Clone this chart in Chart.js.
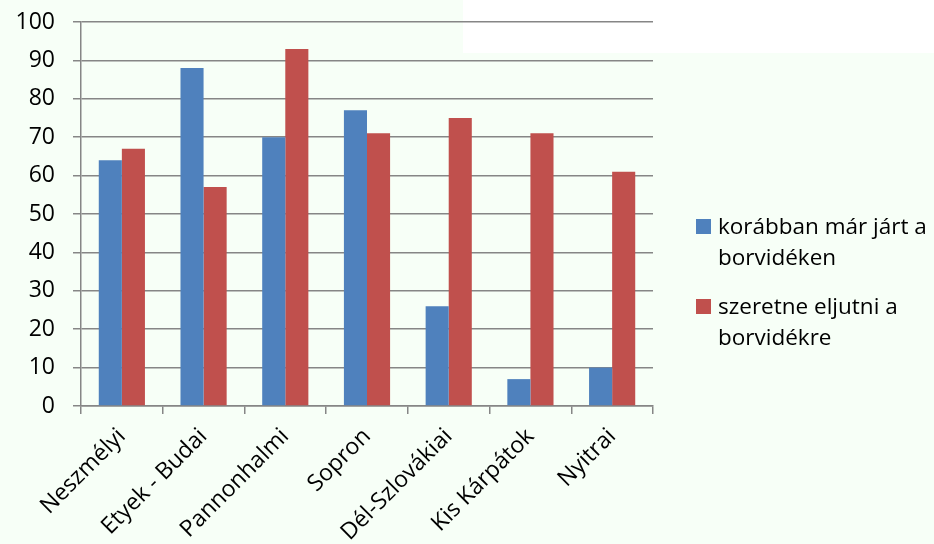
<!DOCTYPE html>
<html>
<head>
<meta charset="utf-8">
<script src="https://cdn.jsdelivr.net/npm/chart.js@4/dist/chart.umd.min.js"></script>
<style>
  html, body { margin: 0; padding: 0; }
  body { width: 934px; height: 544px; background: #F7FFF7; position: relative; overflow: hidden; font-family: "Open Sans", sans-serif; }
  #whiteBox { position: absolute; left: 463px; top: 0; width: 471px; height: 53px; background: #FFFFFF; }
  #wrap { position: absolute; left: 0; top: 0; width: 934px; height: 544px; }
  #legend { position: absolute; left: 696px; top: 210px; width: 238px; font-size: 22.5px; line-height: 31px; color: #000; }
  .item { position: relative; padding-left: 22px; margin-bottom: 18px; }
  .sw { position: absolute; left: 0; top: 9px; width: 15px; height: 15px; }
</style>
</head>
<body>
<div id="whiteBox"></div>
<div id="wrap"><canvas id="c" width="934" height="544"></canvas></div>
<div id="legend"></div>
<script>
const categories = ['Neszmélyi', 'Etyek - Budai', 'Pannonhalmi', 'Sopron', 'Dél-Szlovákiai', 'Kis Kárpátok', 'Nyitrai'];
const seriesNames = ['korábban már járt a borvidéken', 'szeretne eljutni a borvidékre'];
const visitedBefore = [64, 88, 70, 77, 26, 7, 10];
const wantToVisit = [67, 57, 93, 71, 75, 71, 61];
const seriesColors = ['#4F81BD', '#C0504D'];
const yMin = 0, yMax = 100, yStep = 10;

const font = { family: '"Open Sans", sans-serif', size: 23 };

new Chart(document.getElementById('c'), {
  type: 'bar',
  data: {
    labels: categories,
    datasets: [
      { label: seriesNames[0], data: visitedBefore, backgroundColor: seriesColors[0] },
      { label: seriesNames[1], data: wantToVisit, backgroundColor: seriesColors[1] }
    ]
  },
  options: {
    responsive: false,
    animation: false,
    devicePixelRatio: 1,
    categoryPercentage: 0.565,
    barPercentage: 1.0,
    layout: { padding: { top: 22, right: 281, left: 0, bottom: 0 } },
    plugins: { legend: { display: false }, tooltip: { enabled: false } },
    scales: {
      x: {
        grid: { offset: true, drawOnChartArea: false, drawTicks: true, tickLength: 8, color: '#868686', lineWidth: 1.5 },
        border: { color: '#868686', width: 1.5 },
        ticks: { color: '#000', font: font, minRotation: 45, maxRotation: 45, padding: 9 },
        afterFit: (s) => { s.height = 138; s.paddingLeft = 0; s.paddingRight = 0; }
      },
      y: {
        min: yMin, max: yMax,
        grid: { color: '#868686', lineWidth: 1.5, tickLength: 8 },
        border: { color: '#868686', width: 1.5 },
        ticks: { stepSize: yStep, color: '#000', font: font, padding: 18 },
        afterFit: (s) => { s.width = 81; s.paddingTop = 0; s.paddingBottom = 0; }
      }
    }
  }
});

const legend = document.getElementById('legend');
seriesNames.forEach((name, i) => {
  const it = document.createElement('div');
  it.className = 'item';
  const sw = document.createElement('span');
  sw.className = 'sw';
  sw.style.background = seriesColors[i];
  it.appendChild(sw);
  it.appendChild(document.createTextNode(name));
  legend.appendChild(it);
});
</script>
</body>
</html>
